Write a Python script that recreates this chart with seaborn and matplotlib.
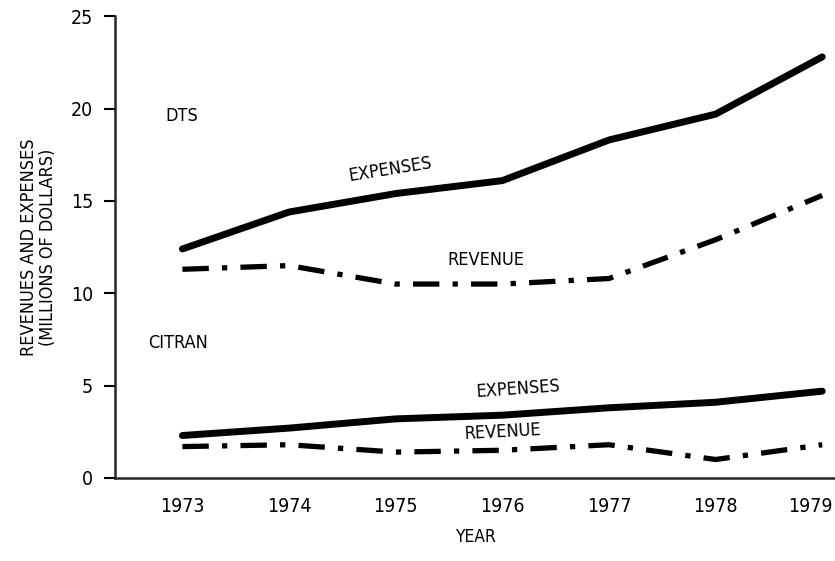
import numpy as np
import pandas as pd
import matplotlib
matplotlib.use("Agg")
import matplotlib.pyplot as plt
import matplotlib.transforms as mtransforms
import seaborn as sns

# values (millions of dollars)
years = [1973, 1974, 1975, 1976, 1977, 1978, 1979]
dts_expenses = [12.4, 14.4, 15.4, 16.1, 18.3, 19.7, 22.8]
dts_revenue = [11.3, 11.5, 10.5, 10.5, 10.8, 12.9, 15.3]
citran_expenses = [2.3, 2.7, 3.2, 3.4, 3.8, 4.1, 4.7]
citran_revenue = [1.7, 1.8, 1.4, 1.5, 1.8, 1.0, 1.8]
yticks = [0, 5, 10, 15, 20, 25]

sns.set_style("ticks")
plt.rcParams["font.family"] = ["DejaVu Sans"]
plt.rcParams["font.stretch"] = "condensed"
for k in ["text.color", "axes.labelcolor", "xtick.color", "ytick.color"]:
    plt.rcParams[k] = "black"

fig = plt.figure(figsize=(8.35, 5.61), dpi=100)
ax = fig.add_axes([0.138, 0.148, 0.862, 0.823])

solid = dict(color="black", linewidth=5, solid_capstyle="round")
dashdot = dict(color="black", linewidth=3.8, dashes=(5, 2.5, 1, 2.5))

sns.lineplot(x=years, y=dts_expenses, ax=ax, **solid)
sns.lineplot(x=years, y=citran_expenses, ax=ax, **solid)
sns.lineplot(x=years, y=dts_revenue, ax=ax, **dashdot)
sns.lineplot(x=years, y=citran_revenue, ax=ax, **dashdot)

ax.set_xlim(1972.37, 1979.12)
ax.set_ylim(0, 25)
ax.set_xticks(years)
ax.set_yticks(yticks)
ax.tick_params(axis="y", length=8, width=1.5, labelsize=14, pad=8)
ax.tick_params(axis="x", length=0, labelsize=14, pad=14)
sns.despine(ax=ax)
ax.spines["left"].set_linewidth(1.8)
ax.spines["bottom"].set_linewidth(1.8)

# keep the last year label inside the figure
last = ax.get_xticklabels()[-1]
last.set_transform(last.get_transform() +
                   mtransforms.ScaledTranslation(-12 / 100, 0, fig.dpi_scale_trans))

ax.set_xlabel("YEAR", fontsize=12.5, labelpad=8)
ax.set_ylabel("REVENUES AND EXPENSES\n(MILLIONS OF DOLLARS)", fontsize=13,
              labelpad=10, linespacing=1.05)

txt = dict(fontsize=13, color="black")
ax.text(1972.84, 19.6, "DTS", va="center", **txt)
ax.text(1972.68, 7.3, "CITRAN", va="center", **txt)
ax.text(1974.95, 16.7, "EXPENSES", ha="center", va="center", rotation=9, **txt)
ax.text(1975.85, 11.8, "REVENUE", ha="center", va="center", **txt)
ax.text(1976.15, 4.8, "EXPENSES", ha="center", va="center", rotation=4, **txt)
ax.text(1976.0, 2.5, "REVENUE", ha="center", va="center", rotation=3, **txt)

fig.savefig("out.png", dpi=100)
